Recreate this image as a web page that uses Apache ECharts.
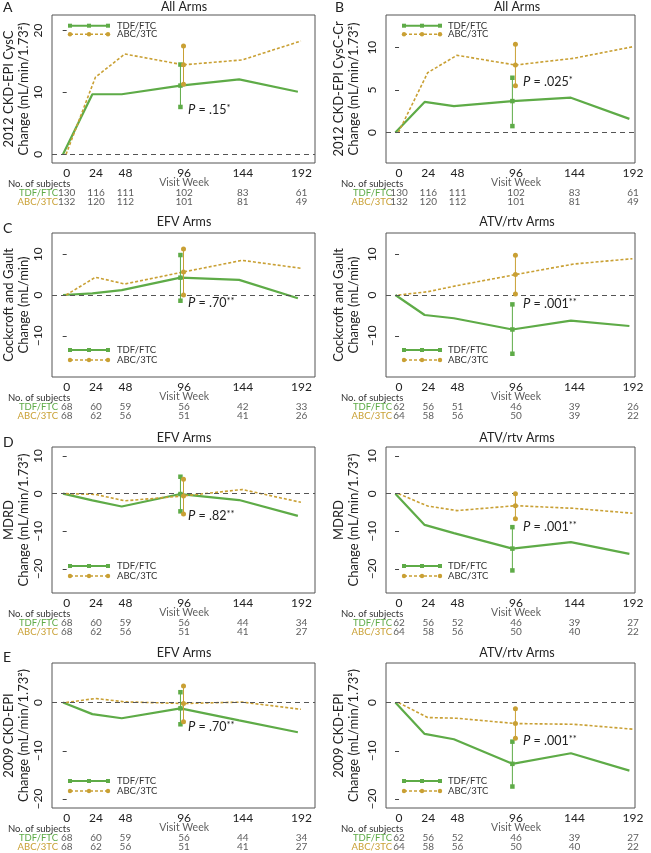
<!DOCTYPE html>
<html><head><meta charset="utf-8">
<script src="https://cdn.jsdelivr.net/npm/echarts@6/dist/echarts.min.js"></script>
<style>html,body{margin:0;padding:0;background:#fff}#c{width:651px;height:853px}</style>
</head><body><div id="c"></div>
<script>
// ---------- DATA ----------
const weeks = [0, 24, 48, 96, 144, 192];
const weekTickLabels = [0, 24, 48, 96, 144, 192];
const groupNames = ['TDF/FTC', 'ABC/3TC'];

// A: 2012 CKD-EPI CysC, all arms
const cyscTdf = [0, 9.7, 9.7, 11.1, 12.1, 10.1];
const cyscAbc = [0, 12.45, 16.2, 14.45, 15.25, 18.3];
const cyscTdfCI = [7.65, 14.5];
const cyscAbcCI = [11.3, 17.5];
// B: 2012 CKD-EPI CysC-Cr, all arms
const cyscrTdf = [0, 3.6, 3.1, 3.7, 4.1, 1.6];
const cyscrAbc = [0, 7.05, 9.1, 7.95, 8.75, 10.1];
const cyscrTdfCI = [0.75, 6.45];
const cyscrAbcCI = [5.5, 10.4];
const allTdfN = [130, 116, 111, 102, 83, 61];
const allAbcN = [132, 120, 112, 101, 81, 49];
// C: Cockcroft-Gault
const cgEfvTdf = [0, 0.4, 1.2, 4.25, 3.7, -0.8];
const cgEfvAbc = [0, 4.35, 2.7, 5.65, 8.5, 6.55];
const cgEfvTdfCI = [-1.4, 9.8];
const cgEfvAbcCI = [0, 11.3];
const cgEfvTdfN = [68, 60, 59, 56, 42, 33];
const cgEfvAbcN = [68, 62, 56, 51, 41, 26];
const cgAtvTdf = [0, -4.9, -5.7, -8.45, -6.3, -7.6];
const cgAtvAbc = [0, 0.8, 2.3, 5.0, 7.6, 8.9];
const cgAtvTdfCI = [-14.4, -2.3];
const cgAtvAbcCI = [0.25, 9.75];
const cgAtvTdfN = [62, 56, 51, 46, 39, 26];
const cgAtvAbcN = [64, 58, 56, 50, 39, 22];
// D: MDRD
const mdrdEfvTdf = [0, -1.8, -3.4, -0.1, -1.7, -5.9];
const mdrdEfvAbc = [0, -0.2, -1.9, -0.6, 1.1, -2.3];
const mdrdEfvTdfCI = [-4.7, 4.5];
const mdrdEfvAbcCI = [-5.4, 3.8];
const mdrdAtvTdf = [0, -8.3, -10.5, -14.6, -12.9, -16.0];
const mdrdAtvAbc = [0, -3.3, -4.5, -3.2, -3.9, -5.2];
const mdrdAtvTdfCI = [-20.4, -8.9];
const mdrdAtvAbcCI = [-6.7, 0];
const efvTdfN = [68, 60, 59, 56, 44, 34];
const efvAbcN = [68, 62, 56, 51, 41, 27];
const atvTdfN = [62, 56, 52, 46, 39, 27];
const atvAbcN = [64, 58, 56, 50, 40, 22];
// E: 2009 CKD-EPI
const ckd09EfvTdf = [0, -2.4, -3.25, -1.2, -3.7, -6.15];
const ckd09EfvAbc = [0, 0.85, 0.15, -0.2, 0.1, -1.4];
const ckd09EfvTdfCI = [-4.5, 2.15];
const ckd09EfvAbcCI = [-3.95, 3.45];
const ckd09AtvTdf = [0, -6.5, -7.6, -12.7, -10.5, -14.1];
const ckd09AtvAbc = [0, -3.1, -3.25, -4.35, -4.5, -5.5];
const ckd09AtvTdfCI = [-17.4, -8.1];
const ckd09AtvAbcCI = [-7.4, -1.3];
// P values
const pValues = ['.15', '.025', '.70', '.001', '.82', '.001', '.70', '.001'];
const pStars = ['*', '*', '**', '**', '**', '**', '**', '**'];

// ---------- STYLE / LAYOUT ----------
const FONT = "Lato, 'Noto Sans', sans-serif";
const GREEN = '#5eab47', GOLD = '#c9a034', TXT = '#222';
const DODGE_T = -3, DODGE_A = -0.5, CI_WEEK = 96;
const sides = [
  {left: 52, width: 263, xmin: -12, xmax: 203, subjX: 8, rowLabX: 58, legX0: 70, legX1: 108, legTX: 117, pX: 188, nameGap: 20, titleX: 184},
  {left: 386, width: 249, xmin: -10.7, xmax: 193.6, subjX: 341, rowLabX: 392, legX0: 404, legX1: 440, legTX: 448, pX: 523, nameGap: 25, titleX: 517}
];
const rows = [
  {top: 15, h: 148, titleY: 7, letterY: 7, legTop: true},
  {top: 233, h: 144, titleY: 222, letterY: 228},
  {top: 447, h: 146, titleY: 438, letterY: 442},
  {top: 663, h: 145, titleY: 653, letterY: 657}
];
const U2 = 'Change (mL/min/1.73²)';
const panels = [
  {side:0,row:0,letter:'A',title:'All Arms',n1:'2012 CKD-EPI CysC',n2:U2,ymin:-1.4,ymax:22.5,yt:[0,10,20],tdf:cyscTdf,abc:cyscAbc,tci:cyscTdfCI,aci:cyscAbcCI,nT:allTdfN,nA:allAbcN,pY:110},
  {side:1,row:0,letter:'B',title:'All Arms',n1:'2012 CKD-EPI CysC-Cr',n2:U2,ymin:-3.6,ymax:13.85,yt:[0,5,10],tdf:cyscrTdf,abc:cyscrAbc,tci:cyscrTdfCI,aci:cyscrAbcCI,nT:allTdfN,nA:allAbcN,pY:82},
  {side:0,row:1,letter:'C',title:'EFV Arms',n1:'Cockcroft and Gault',n2:'Change (mL/min)',ymin:-20.1,ymax:15.2,yt:[-10,0,10],tdf:cgEfvTdf,abc:cgEfvAbc,tci:cgEfvTdfCI,aci:cgEfvAbcCI,nT:cgEfvTdfN,nA:cgEfvAbcN,pY:303},
  {side:1,row:1,letter:'',title:'ATV/rtv Arms',n1:'Cockcroft and Gault',n2:'Change (mL/min)',ymin:-20.1,ymax:15.2,yt:[-10,0,10],tdf:cgAtvTdf,abc:cgAtvAbc,tci:cgAtvTdfCI,aci:cgAtvAbcCI,nT:cgAtvTdfN,nA:cgAtvAbcN,pY:304},
  {side:0,row:2,letter:'D',title:'EFV Arms',n1:'MDRD',n2:U2,ymin:-26.4,ymax:12.4,yt:[-20,-10,0,10],tdf:mdrdEfvTdf,abc:mdrdEfvAbc,tci:mdrdEfvTdfCI,aci:mdrdEfvAbcCI,nT:efvTdfN,nA:efvAbcN,pY:516},
  {side:1,row:2,letter:'',title:'ATV/rtv Arms',n1:'MDRD',n2:U2,ymin:-26.4,ymax:12.4,yt:[-20,-10,0,10],tdf:mdrdAtvTdf,abc:mdrdAtvAbc,tci:mdrdAtvTdfCI,aci:mdrdAtvAbcCI,nT:atvTdfN,nA:atvAbcN,pY:527},
  {side:0,row:3,letter:'E',title:'EFV Arms',n1:'2009 CKD-EPI',n2:U2,ymin:-21.85,ymax:8.2,yt:[-20,-10,0],tdf:ckd09EfvTdf,abc:ckd09EfvAbc,tci:ckd09EfvTdfCI,aci:ckd09EfvAbcCI,nT:efvTdfN,nA:efvAbcN,pY:727},
  {side:1,row:3,letter:'',title:'ATV/rtv Arms',n1:'2009 CKD-EPI',n2:U2,ymin:-21.85,ymax:8.2,yt:[-20,-10,0],tdf:ckd09AtvTdf,abc:ckd09AtvAbc,tci:ckd09AtvTdfCI,aci:ckd09AtvAbcCI,nT:atvTdfN,nA:atvAbcN,pY:741}
];

function txt(x, y, text, size, color, align, extra) {
  return Object.assign({type: 'text', x: x, y: y, silent: true, style: {
    text: text, fill: color || TXT, font: size + 'px ' + FONT,
    align: align || 'left', textAlign: align || 'left', verticalAlign: 'middle', textVerticalAlign: 'middle'
  }}, extra || {});
}

const grid = [], xAxis = [], yAxis = [], series = [], graphic = [];
panels.forEach(function (p, k) {
  const s = sides[p.side], r = rows[p.row];
  const gi = grid.length;
  grid.push({left: s.left, top: r.top, width: s.width, height: r.h, show: true, borderColor: '#555', borderWidth: 1, backgroundColor: 'transparent'});
  xAxis.push({type: 'value', gridIndex: gi, min: s.xmin, max: s.xmax,
    axisLine: {show: false}, axisTick: {show: false}, splitLine: {show: false},
    axisLabel: {customValues: weekTickLabels, margin: 4, fontSize: 12, color: TXT, fontFamily: FONT}});
  yAxis.push({type: 'value', gridIndex: gi, min: p.ymin, max: p.ymax,
    axisLine: {show: false}, splitLine: {show: false},
    axisTick: {show: true, length: 4, customValues: p.yt, lineStyle: {color: '#444'}},
    axisLabel: {customValues: p.yt, rotate: 90, margin: 8, fontSize: 12, color: TXT, fontFamily: FONT,
      formatter: function (v) { return String(v).replace('-', '\u2212'); }},
    name: p.n1 + '\n' + p.n2, nameLocation: 'middle', nameRotate: 90, nameGap: s.nameGap,
    nameTextStyle: {fontSize: 13, lineHeight: 15, color: TXT, fontFamily: FONT}});
  series.push({type: 'line', xAxisIndex: gi, yAxisIndex: gi, silent: true, showSymbol: false, z: 3,
    data: weeks.map(function (w, i) { return [w + DODGE_T, p.tdf[i]]; }),
    lineStyle: {color: GREEN, width: 2.2},
    markLine: {silent: true, symbol: 'none', label: {show: false}, animation: false,
      lineStyle: {color: '#555', type: [5, 4], width: 1}, data: [{yAxis: 0}]}});
  series.push({type: 'line', xAxisIndex: gi, yAxisIndex: gi, silent: true, showSymbol: false, z: 4,
    data: weeks.map(function (w, i) { return [w + DODGE_A, p.abc[i]]; }),
    lineStyle: {color: GOLD, width: 1.6, type: [3, 2]}});
  const iw = weeks.indexOf(CI_WEEK);
  series.push({type: 'line', xAxisIndex: gi, yAxisIndex: gi, silent: true, z: 5,
    data: [[CI_WEEK + DODGE_T, p.tci[0]], [CI_WEEK + DODGE_T, p.tdf[iw]], [CI_WEEK + DODGE_T, p.tci[1]]],
    symbol: 'rect', symbolSize: 4.5, itemStyle: {color: GREEN}, lineStyle: {color: GREEN, width: 1}});
  series.push({type: 'line', xAxisIndex: gi, yAxisIndex: gi, silent: true, z: 6,
    data: [[CI_WEEK + DODGE_A, p.aci[0]], [CI_WEEK + DODGE_A, p.abc[iw]], [CI_WEEK + DODGE_A, p.aci[1]]],
    symbol: 'circle', symbolSize: 5, itemStyle: {color: GOLD}, lineStyle: {color: GOLD, width: 1}});

  // subject table grid
  const ti = grid.length;
  const bottom = r.top + r.h;
  grid.push({left: s.left, top: bottom + 15, width: s.width, height: 29, show: false});
  xAxis.push({type: 'value', gridIndex: ti, min: s.xmin, max: s.xmax, show: false});
  yAxis.push({type: 'category', gridIndex: ti, data: ['week', 'tdf', 'abc'], inverse: true, show: false});
  const tdata = [{value: [CI_WEEK, 'week'], label: {formatter: 'Visit Week', fontSize: 10.5}}];
  weeks.forEach(function (w, i) {
    tdata.push({value: [w, 'tdf'], label: {formatter: String(p.nT[i])}});
    tdata.push({value: [w, 'abc'], label: {formatter: String(p.nA[i])}});
  });
  series.push({type: 'scatter', xAxisIndex: ti, yAxisIndex: ti, silent: true, symbolSize: 0, data: tdata,
    label: {show: true, position: 'inside', color: '#333', fontSize: 10, fontFamily: FONT}});

  graphic.push(txt(s.subjX, bottom + 21, 'No. of subjects', 9.5, '#333'));
  graphic.push(txt(s.rowLabX, bottom + 29.5, groupNames[0], 9.5, GREEN, 'right'));
  graphic.push(txt(s.rowLabX, bottom + 39, groupNames[1], 9.5, GOLD, 'right'));

  // title & letter
  graphic.push(txt(s.titleX, r.titleY, p.title, 12.5, TXT, 'center'));
  if (p.letter) graphic.push(txt(p.side === 0 ? 3 : 335, r.letterY, p.letter, 14, TXT, 'left'));

  // legend
  const ly1 = r.legTop ? r.top + 10.7 : bottom - 27;
  const ly2 = r.legTop ? r.top + 19.3 : bottom - 17;
  const xm = (s.legX0 + s.legX1) / 2;
  graphic.push({type: 'line', silent: true, shape: {x1: s.legX0, y1: ly1, x2: s.legX1, y2: ly1}, style: {stroke: GREEN, lineWidth: 2}});
  [s.legX0, xm, s.legX1].forEach(function (x) {
    graphic.push({type: 'rect', silent: true, shape: {x: x - 2, y: ly1 - 2, width: 4, height: 4}, style: {fill: GREEN}});
  });
  graphic.push({type: 'line', silent: true, shape: {x1: s.legX0, y1: ly2, x2: s.legX1, y2: ly2}, style: {stroke: GOLD, lineWidth: 1.5, lineDash: [3, 2]}});
  [s.legX0, xm, s.legX1].forEach(function (x) {
    graphic.push({type: 'circle', silent: true, shape: {cx: x, cy: ly2, r: 2.2}, style: {fill: GOLD}});
  });
  graphic.push(txt(s.legTX, ly1, groupNames[0], 9.5, '#333'));
  graphic.push(txt(s.legTX, ly2, groupNames[1], 9.5, '#333'));

  // P value
  graphic.push({type: 'text', x: s.pX, y: p.pY, silent: true, style: {
    text: '{i|P} = ' + pValues[k] + '{s|' + pStars[k] + '}',
    fill: TXT, font: '12.5px ' + FONT, verticalAlign: 'middle', textVerticalAlign: 'middle',
    rich: {
      i: {fontStyle: 'italic', fontSize: 13, fontFamily: FONT, fill: TXT, lineHeight: 14},
      s: {fontSize: 9.5, fontFamily: FONT, fill: TXT, verticalAlign: 'top', lineHeight: 14}
    }}});
});

const chart = echarts.init(document.getElementById('c'), null, {renderer: 'canvas'});
chart.setOption({animation: false, backgroundColor: '#fff', textStyle: {fontFamily: FONT},
  grid: grid, xAxis: xAxis, yAxis: yAxis, series: series, graphic: graphic});
</script></body></html>
